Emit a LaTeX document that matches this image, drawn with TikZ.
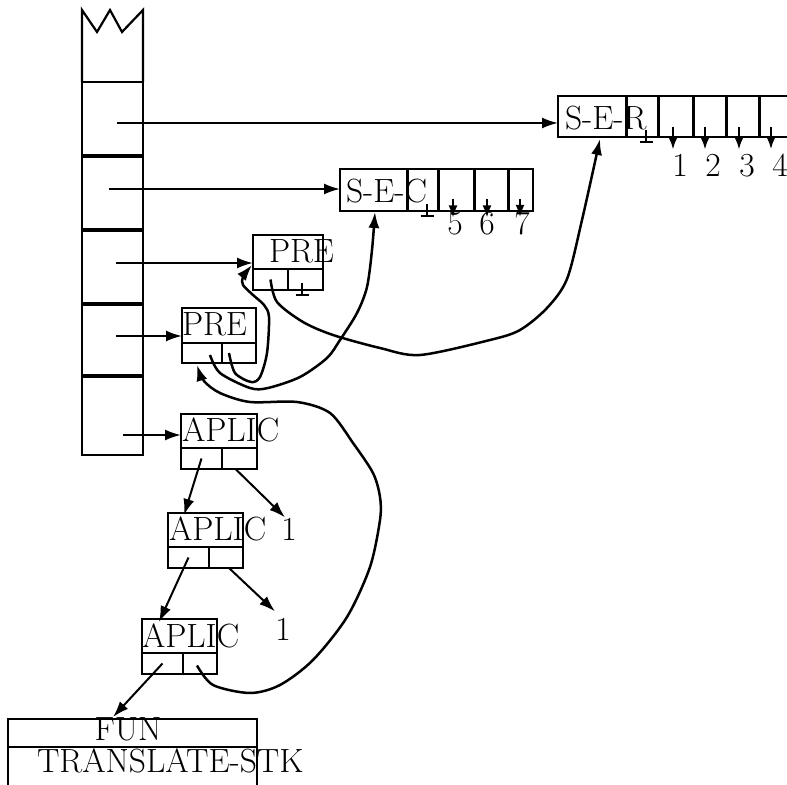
\documentclass[tikz,border=0pt]{standalone}
\usetikzlibrary{arrows.meta}
\newcommand\mkbox[5]{\node[box, minimum width={(#4-#2)*0.5pt}, minimum height={(#5-#3)*0.5pt}] (#1) at (#2,#3) {};}
\begin{document}
\begin{tikzpicture}[x=0.5pt,y=-0.5pt,
  every node/.style={font=\fontsize{16.8}{20}\selectfont, inner sep=0pt, outer sep=0pt},
  box/.style={draw, line width=0.95pt, anchor=north west},
  lbl/.style={anchor=base west},
  num/.style={anchor=base},
  arr/.style={line width=1pt, -{Latex[length=8pt,width=5.5pt]}},
  sarr/.style={line width=0.9pt, -{Latex[length=6pt,width=4.5pt]}},
  curve/.style={line width=1.25pt, line join=round, -{Latex[length=8pt,width=5.5pt]}},
  botsym/.pic={\draw[line width=0.95pt] (0,-12) -- (0,0) (-6.5,0) -- (6.5,0);}
]
\useasboundingbox (0,0) rectangle (787,785);

% stack
\draw[line width=1.1pt, line join=miter] (82,82) -- (82,10) -- (97,32) -- (110,10) -- (122,32) -- (143,10) -- (143,82);
\mkbox{st1}{82}{82}{143}{155}
\mkbox{st2}{82}{157}{143}{229}
\mkbox{st3}{82}{231}{143}{303}
\mkbox{st4}{82}{305}{143}{375}
\mkbox{st5}{82}{377}{143}{455}

% S-E-R
\mkbox{serl}{558}{96}{626}{137}
\mkbox{ser0}{627.5}{96}{658}{137}
\mkbox{ser1}{659.5}{96}{693}{137}
\mkbox{ser2}{694.5}{96}{726}{137}
\mkbox{ser3}{727.5}{96}{759}{137}
\mkbox{ser4}{760.5}{96}{820}{137}
\node[lbl] (sert) at (565,130) {S-E-R};
\pic at (646,142) {botsym};
\node[num] (d1) at (680,177) {1};
\node[num] (d2) at (713,177) {2};
\node[num] (d3) at (747,177) {3};
\node[num] (d4) at (780,177) {4};
\draw[sarr] ([xshift=-3.5pt,yshift=13.7pt]d1.north) -- ([xshift=-3.5pt,yshift=2.7pt]d1.north);
\draw[sarr] ([xshift=-4pt,yshift=13.7pt]d2.north) -- ([xshift=-4pt,yshift=2.7pt]d2.north);
\draw[sarr] ([xshift=-4pt,yshift=13.7pt]d3.north) -- ([xshift=-4pt,yshift=2.7pt]d3.north);
\draw[sarr] ([xshift=-4.5pt,yshift=13.7pt]d4.north) -- ([xshift=-4.5pt,yshift=2.7pt]d4.north);

% S-E-C
\mkbox{secl}{340}{169}{407}{211}
\mkbox{sec0}{408.5}{169}{438}{211}
\mkbox{sec1}{439.5}{169}{474}{211}
\mkbox{sec2}{475.5}{169}{508}{211}
\mkbox{sec3}{509.5}{169}{533}{211}
\node[lbl] (sect) at (346,203) {S-E-C};
\pic at (427,216) {botsym};
\node[num] (d5) at (455,235) {5};
\node[num] (d6) at (487,235) {6};
\node[num] (d7) at (522,235) {7};
\draw[sarr] ([xshift=-1pt,yshift=6.7pt]d5.north) -- ([xshift=-1pt,yshift=-2.3pt]d5.north);
\draw[sarr] ([yshift=6.7pt]d6.north) -- ([yshift=-2.3pt]d6.north);
\draw[sarr] ([xshift=-1pt,yshift=6.7pt]d7.north) -- ([xshift=-1pt,yshift=-2.3pt]d7.north);

% PRE 1
\mkbox{pre1t}{253}{235}{323}{269}
\mkbox{pre1l}{253}{269}{288}{290}
\mkbox{pre1r}{288}{269}{323}{290}
\node[lbl] (pre1x) at (269,263) {PRE};
\pic at (302,295) {botsym};

% PRE 2
\mkbox{pre2t}{182}{308}{256}{343}
\mkbox{pre2l}{182}{343}{222}{363}
\mkbox{pre2r}{222}{343}{256}{363}
\node[lbl] (pre2x) at (182,336) {PRE};

% APLIC 1
\mkbox{ap1t}{181}{414}{257}{448}
\mkbox{ap1l}{181}{448}{222}{469}
\mkbox{ap1r}{222}{448}{257}{469}
\node[lbl] (ap1x) at (182,442) {APLIC};

% APLIC 2
\mkbox{ap2t}{168}{513}{243}{547}
\mkbox{ap2l}{168}{547}{209}{568}
\mkbox{ap2r}{209}{547}{243}{568}
\node[lbl] (ap2x) at (169,541) {APLIC};
\node[num] (one1) at (289,541) {1};

% APLIC 3
\mkbox{ap3t}{142}{619}{217}{653}
\mkbox{ap3l}{142}{653}{183}{674}
\mkbox{ap3r}{183}{653}{217}{674}
\node[lbl] (ap3x) at (142,647) {APLIC};
\node[num] (one2) at (283,640) {1};

% FUN
\mkbox{funt}{8}{719}{257}{747}
\mkbox{funb}{8}{747}{257}{830}
\node[num] (funx) at (128,740) {FUN};
\node[lbl] (trx) at (37,772) {TRANSLATE-STK};

% stack pointers
\coordinate (s1) at (117,123);
\coordinate (s2) at (109,189);
\coordinate (s3) at (116,263);
\coordinate (s4) at (116,336);
\coordinate (s5) at (123,435);
\draw[arr] (s1) -- (s1 -| serl.west);
\draw[arr] (s2) -- (s2 -| secl.west);
\draw[arr] (s3) -- (s3 -| pre1t.west);
\draw[arr] (s4) -- (s4 -| pre2t.west);
\draw[arr] (s5) -- (s5 -| ap1t.west);

% tree arrows
\draw[arr] (ap1l.center) -- ([xshift=-10.75pt,yshift=-1pt]ap2t.north);
\draw[arr] ([xshift=-2pt]ap1r.south) -- ([xshift=-2pt,yshift=0.7pt]one1.north);
\draw[arr] (ap2l.center) -- ([xshift=-10.25pt,yshift=-1.5pt]ap3t.north);
\draw[arr] ([xshift=1.5pt]ap2r.south) -- ([xshift=-4pt,yshift=3.2pt]one2.north);
\draw[arr] (ap3l.center) -- ([xshift=-9.75pt,yshift=1pt]funt.north);

% curves
\draw[curve] plot[smooth, tension=0.5] coordinates {([xshift=-1.5pt,yshift=-1pt]ap3r.center) (213,685) (250,693) (280,685) (313,660) (347,617) (370,567) (380,520) (380,497) (373,473) (353,443) (330,413) (297,402) (250,402) (220,393) (204,381) ([xshift=-2.5pt,yshift=-1pt]pre2l.south)};
\draw[curve] plot[smooth, tension=0.5] coordinates {([xshift=4pt,yshift=-1pt]pre2l.center) (220,373) (250,388) (268,388) (300,377) (327,358) (340,340) (357,313) (367,287) (372,250) ([xshift=0.75pt,yshift=-0.5pt]secl.south)};
\draw[curve] plot[smooth, tension=0.5] coordinates {([xshift=-5pt]pre2r.center) (235,373) (251,382) (260,377) (267,353) (269,317) (264,305) (253,295) (243,285) (243,277) ([xshift=-0.5pt,yshift=2pt]pre1t.south west)};
\draw[curve] plot[smooth, tension=0.5] coordinates {(pre1l.center) (277,302) (303,322) (333,335) (380,348) (420,355) (490,340) (520,330) (547,308) (567,279) (582,220) ([xshift=4pt,yshift=-1pt]serl.south)};
\end{tikzpicture}
\end{document}
